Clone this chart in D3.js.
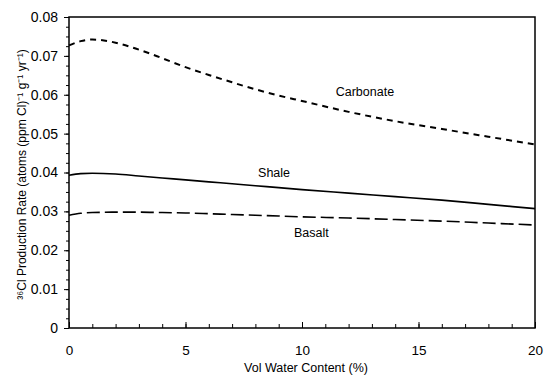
<!DOCTYPE html>
<html>
<head>
<meta charset="utf-8">
<script src="https://cdn.jsdelivr.net/npm/d3@7"></script>
<style>
  body { margin: 0; background: #fff; }
  svg { font-family: "Liberation Sans", Arial, sans-serif; }
</style>
</head>
<body>
<div id="chart"></div>
<script>
// water content (%)
const waterPct = [0, 0.5, 1, 2, 3, 4, 5, 6, 7, 8, 9, 10, 12, 14, 16, 18, 20];
const carbonate = [0.0727, 0.0738, 0.0742, 0.0734, 0.0716, 0.0694, 0.0671, 0.0651, 0.0632, 0.0614, 0.0598, 0.0584, 0.0556, 0.0532, 0.0512, 0.0492, 0.0472];
const shale = [0.0393, 0.0397, 0.0398, 0.0396, 0.0391, 0.0386, 0.0381, 0.0376, 0.0371, 0.0366, 0.0361, 0.0356, 0.0347, 0.0338, 0.0329, 0.0318, 0.0307];
const basalt = [0.0290, 0.0295, 0.0297, 0.0298, 0.0298, 0.0297, 0.0296, 0.0294, 0.0292, 0.0290, 0.0288, 0.0286, 0.0283, 0.0279, 0.0275, 0.0270, 0.0265];
const yTicks = [0, 0.01, 0.02, 0.03, 0.04, 0.05, 0.06, 0.07, 0.08];
const xTicks = [0, 5, 10, 15, 20];

const width = 544, height = 379;
const margin = {top: 17, right: 9, bottom: 51, left: 69};
const innerWidth = width - margin.left - margin.right,
    innerHeight = height - margin.top - margin.bottom;

const svg = d3.select("#chart")
    .append("svg")
    .attr("width", width)
    .attr("height", height);

const g = svg.append("g")
    .attr("transform", "translate(" + margin.left + "," + margin.top + ")");

const x = d3.scaleLinear().domain([0, 20]).range([0, innerWidth]);
const y = d3.scaleLinear().domain([0, 0.08]).range([innerHeight, 0]);

// minor ticks (no labels)
g.append("g")
    .attr("transform", "translate(0," + innerHeight + ")")
    .call(d3.axisBottom(x).tickValues(d3.range(0, 21, 1)).tickSize(-4))
    .call(a => a.select(".domain").remove())
    .call(a => a.selectAll("text").remove());
g.append("g")
    .call(d3.axisLeft(y).tickValues(d3.range(0, 0.0801, 0.0025)).tickSize(3))
    .call(a => a.select(".domain").remove())
    .call(a => a.selectAll("text").remove());

// major ticks + labels
const xAxis = g.append("g")
    .attr("transform", "translate(0," + innerHeight + ")")
    .call(d3.axisBottom(x).tickValues(xTicks).tickSize(-6).tickPadding(17).tickFormat(d3.format("d")));
xAxis.select(".domain").remove();
xAxis.selectAll("text").style("font-size", "13.5px").attr("fill", "#000");

const yAxis = g.append("g")
    .call(d3.axisLeft(y).tickValues(yTicks).tickSize(5).tickPadding(6)
        .tickFormat(d => d === 0 ? "0" : d3.format(".2f")(d)));
yAxis.select(".domain").remove();
yAxis.selectAll("text").style("font-size", "14px").attr("fill", "#000");

// frame
g.append("rect")
    .attr("width", innerWidth)
    .attr("height", innerHeight)
    .attr("fill", "none")
    .attr("stroke", "#000")
    .attr("stroke-width", 1.5);

const line = d3.line()
    .x((d, i) => x(waterPct[i]))
    .y(d => y(d))
    .curve(d3.curveMonotoneX);

g.append("path").datum(carbonate)
    .attr("d", line).attr("fill", "none").attr("stroke", "#000")
    .attr("stroke-width", 2).attr("stroke-dasharray", "6,5");
g.append("path").datum(shale)
    .attr("d", line).attr("fill", "none").attr("stroke", "#000")
    .attr("stroke-width", 1.6);
g.append("path").datum(basalt)
    .attr("d", line).attr("fill", "none").attr("stroke", "#000")
    .attr("stroke-width", 1.6).attr("stroke-dasharray", "13,5");

// curve labels
const labels = [
    {text: "Carbonate", xv: 12.7, yv: 0.0598},
    {text: "Shale", xv: 8.8, yv: 0.0389},
    {text: "Basalt", xv: 10.4, yv: 0.0235}
];
g.selectAll(".lbl").data(labels).enter().append("text")
    .attr("x", d => x(d.xv))
    .attr("y", d => y(d.yv))
    .attr("text-anchor", "middle")
    .style("font-size", "12.5px")
    .text(d => d.text);

// axis titles
svg.append("text")
    .attr("x", margin.left + innerWidth / 2 + 4)
    .attr("y", 372)
    .attr("text-anchor", "middle")
    .style("font-size", "12.5px")
    .text("Vol Water Content (%)");

svg.append("text")
    .attr("transform", "translate(26," + (margin.top + innerHeight / 2 + 2) + ") rotate(-90)")
    .attr("text-anchor", "middle")
    .style("font-size", "12px")
    .text("\u00b3\u2076Cl Production Rate (atoms (ppm Cl)\u207b\u00b9 g\u207b\u00b9 yr\u207b\u00b9)");
</script>
</body>
</html>
